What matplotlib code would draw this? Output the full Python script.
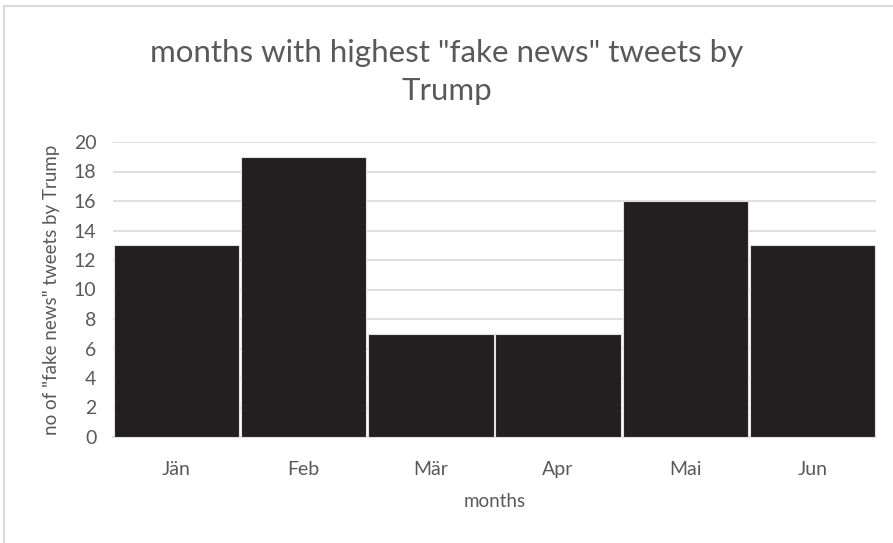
import matplotlib.pyplot as plt
from matplotlib.patches import Rectangle

# monthly counts of "fake news" tweets
months = ["Jän", "Feb", "Mär", "Apr", "Mai", "Jun"]
tweets = [13, 19, 7, 7, 16, 13]
y_ticks = [0, 2, 4, 6, 8, 10, 12, 14, 16, 18, 20]

text_gray = "#595959"
plt.rcParams["font.family"] = ["Lato", "DejaVu Sans"]

fig = plt.figure(figsize=(8.93, 5.43), dpi=100)
ax = fig.add_axes([113 / 893, 1 - 437 / 543, 763 / 893, 295 / 543])

# outer chart frame
fig.patches.append(Rectangle((4 / 893, -0.1), 1.2, 1 - 6 / 543 + 0.1,
                             transform=fig.transFigure, fill=False,
                             edgecolor="#d9d9d9", linewidth=1.5))

x = range(len(months))
ax.bar(x, tweets, width=0.985, color="#231f20", edgecolor="#e0e0e0",
       linewidth=0.8, zorder=3)

ax.set_xlim(-0.5, len(months) - 0.5)
ax.set_ylim(0, 20)
ax.set_yticks(y_ticks)
ax.set_xticks(list(x))
ax.set_xticklabels(months)
ax.grid(axis="y", color="#d9d9d9", linewidth=1.2, zorder=0)
ax.tick_params(length=0, labelsize=14, colors=text_gray)
ax.tick_params(axis="x", pad=17)
ax.tick_params(axis="y", pad=12)
for side in ["top", "right", "left"]:
    ax.spines[side].set_visible(False)
ax.spines["bottom"].set_color("#d9d9d9")
ax.spines["bottom"].set_linewidth(1.2)

ax.set_xlabel("months", fontsize=13.5, color=text_gray, labelpad=11)
ax.set_ylabel('no of "fake news" tweets by Trump', fontsize=13.5,
              color=text_gray, labelpad=10)

fig.text(0.5, 1 - 72 / 543, 'months with highest "fake news" tweets by\nTrump',
         ha="center", va="center", fontsize=22.5, color=text_gray,
         linespacing=1.45)

fig.savefig("out.png", dpi=100)
